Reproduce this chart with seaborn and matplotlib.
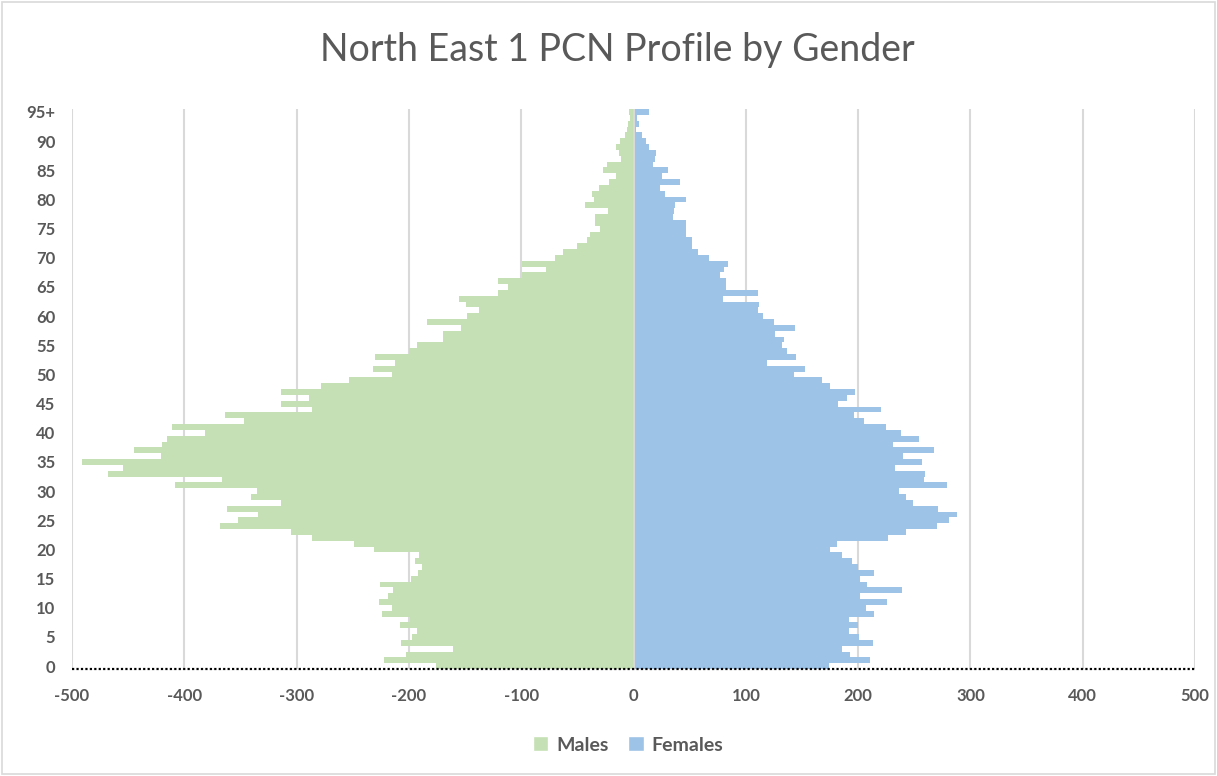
import matplotlib
matplotlib.use("Agg")
import matplotlib.pyplot as plt
from matplotlib.patches import Patch, Rectangle
import pandas as pd
import seaborn as sns

# Age bands 0..95 (95 = "95+")
ages = list(range(96))

males = [176, 222, 203, 161, 207, 197, 193, 208, 199, 224,
         215, 227, 219, 214, 226, 198, 192, 188, 195, 191,
         231, 249, 286, 305, 368, 352, 334, 362, 314, 341,
         335, 408, 366, 468, 455, 491, 421, 445, 420, 415,
         382, 411, 347, 364, 286, 314, 289, 314, 278, 253,
         215, 232, 212, 230, 200, 193, 170, 170, 154, 184,
         148, 138, 149, 155, 121, 112, 121, 99, 78, 99,
         70, 63, 50, 41, 39, 30, 34, 34, 23, 43,
         35, 37, 31, 22, 16, 27, 24, 11, 13, 16,
         12, 8, 6, 5, 3, 4]

females = [174, 211, 193, 186, 213, 201, 192, 200, 192, 214,
           207, 226, 202, 239, 208, 202, 214, 200, 195, 186,
           175, 181, 227, 243, 270, 281, 288, 271, 249, 243,
           236, 279, 259, 260, 233, 257, 240, 268, 231, 254,
           238, 225, 205, 196, 220, 182, 190, 197, 175, 168,
           143, 153, 119, 145, 137, 132, 134, 126, 144, 125,
           115, 111, 112, 80, 111, 82, 82, 77, 81, 84,
           67, 57, 52, 52, 47, 47, 47, 35, 36, 37,
           47, 28, 24, 41, 25, 31, 17, 19, 20, 14,
           11, 8, 2, 5, 3, 14]

y_ticks = [0, 5, 10, 15, 20, 25, 30, 35, 40, 45, 50, 55, 60, 65, 70, 75, 80, 85, 90, 95]
y_labels = ["0", "5", "10", "15", "20", "25", "30", "35", "40", "45",
            "50", "55", "60", "65", "70", "75", "80", "85", "90", "95+"]
x_ticks = [-500, -400, -300, -200, -100, 0, 100, 200, 300, 400, 500]
x_labels = ["-500", "-400", "-300", "-200", "-100", "0", "100", "200", "300", "400", "500"]

green = "#C5E0B4"
blue = "#9DC3E6"
grey_text = "#595959"

df = pd.DataFrame({
    "age": ages * 2,
    "count": [-m for m in males] + females,
    "gender": ["Males"] * len(males) + ["Females"] * len(females),
})

sns.set_style("white")
plt.rcParams["font.family"] = ["Lato", "DejaVu Sans"]

W, H = 1217, 776
fig = plt.figure(figsize=(W / 100, H / 100), dpi=100)
x0, x1, yb, yt = 72, 1195, 669, 109
ax = fig.add_axes([x0 / W, 1 - yb / H, (x1 - x0) / W, (yb - yt) / H])

sns.barplot(data=df, x="count", y="age", hue="gender", orient="h",
            native_scale=True, dodge=False, width=1.0, saturation=1,
            palette={"Males": green, "Females": blue},
            linewidth=0, ax=ax, zorder=2)
if ax.get_legend() is not None:
    ax.get_legend().remove()

ax.set_xlim(-500, 500)
ax.set_ylim(-0.5, 95.5)
ax.set_xticks(x_ticks)
ax.set_xticklabels(x_labels, fontsize=12, fontweight="bold", color=grey_text)
ax.set_yticks(y_ticks)
ax.set_yticklabels(y_labels, fontsize=12, fontweight="bold", color=grey_text)
ax.tick_params(axis="both", length=0)
ax.tick_params(axis="x", pad=14)
ax.tick_params(axis="y", pad=12)
ax.set_xlabel("")
ax.set_ylabel("")

for s in ax.spines.values():
    s.set_visible(False)

for xv in x_ticks:
    if xv != 0:
        ax.axvline(xv, color="#d9d9d9", lw=1.5, zorder=1)
ax.axvline(0, color="#d9d9d9", lw=1.5, zorder=3)
ax.axhline(-0.5, color="black", lw=1.6, ls=(0, (1, 1)), zorder=4, clip_on=False)

fig.text(0.507, 1 - 50 / H, "North East 1 PCN Profile by Gender",
         ha="center", va="center", fontsize=27, color=grey_text)

handles = [Patch(facecolor=green, label="Males"), Patch(facecolor=blue, label="Females")]
fig.legend(handles=handles, loc="center", bbox_to_anchor=(628 / W, 1 - 745 / H),
           ncol=2, frameon=False, handlelength=0.8, handleheight=0.8,
           handletextpad=0.4, columnspacing=1.0,
           prop={"size": 14, "weight": "bold"}, labelcolor=grey_text)

fig.patches.append(Rectangle((0.002, 0.002), 0.996, 0.996, transform=fig.transFigure,
                             fill=False, edgecolor="#d9d9d9", lw=1.2))

fig.savefig("out.png", dpi=100, facecolor="white")
